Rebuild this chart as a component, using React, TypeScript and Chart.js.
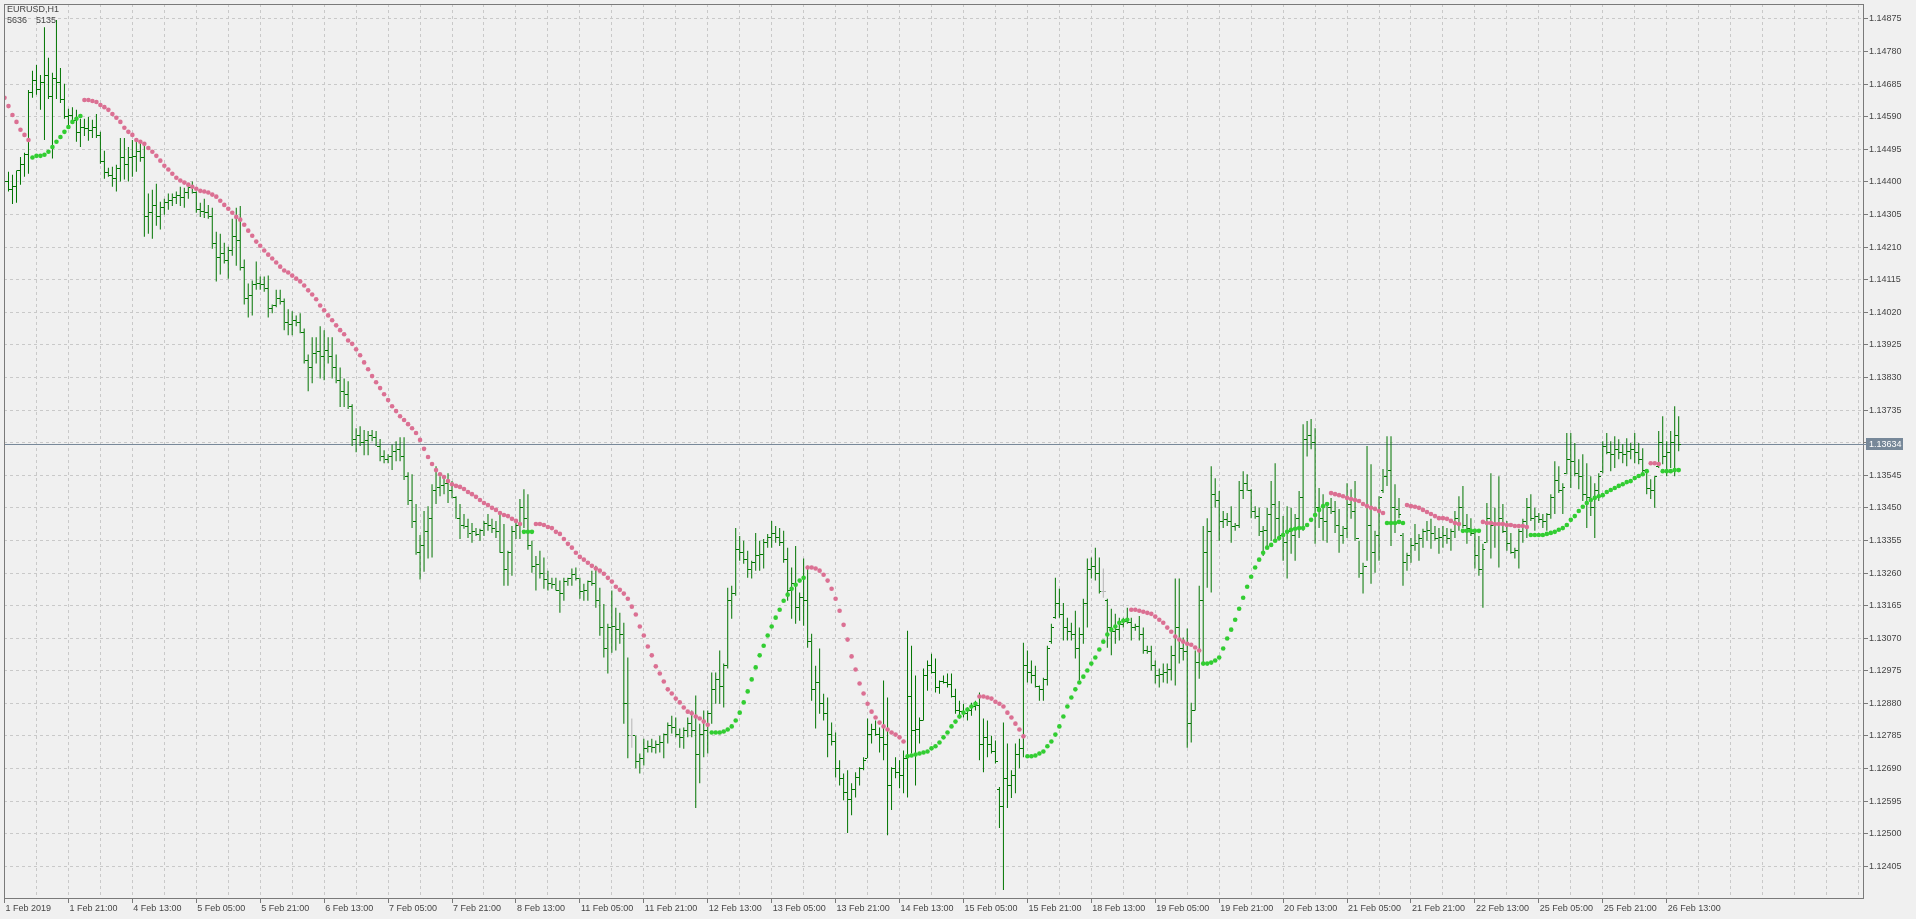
import React, { useEffect, useRef } from 'react';
import { Chart, registerables } from 'chart.js';

Chart.register(...registerables);

// ---- texts ----
const symbolLabel = 'EURUSD,H1';
const infoValues = ['5636', '5135'];

// time labels, one every 16 hourly bars, starting at bar 0
const timeLabels = [
  '1 Feb 2019', '1 Feb 21:00', '4 Feb 13:00', '5 Feb 05:00', '5 Feb 21:00', '6 Feb 13:00',
  '7 Feb 05:00', '7 Feb 21:00', '8 Feb 13:00', '11 Feb 05:00', '11 Feb 21:00', '12 Feb 13:00',
  '13 Feb 05:00', '13 Feb 21:00', '14 Feb 13:00', '15 Feb 05:00', '15 Feb 21:00', '18 Feb 13:00',
  '19 Feb 05:00', '19 Feb 21:00', '20 Feb 13:00', '21 Feb 05:00', '21 Feb 21:00', '22 Feb 13:00',
  '25 Feb 05:00', '25 Feb 21:00', '26 Feb 13:00',
];

const yTickValues = [
  1.12405, 1.12500, 1.12595, 1.12690, 1.12785, 1.12880, 1.12975, 1.13070, 1.13165, 1.13260,
  1.13355, 1.13450, 1.13545, 1.13640, 1.13735, 1.13830, 1.13925, 1.14020, 1.14115, 1.14210,
  1.14305, 1.14400, 1.14495, 1.14590, 1.14685, 1.14780, 1.14875,
];

// ---- OHLC (EURUSD H1) ----
const highs = [
  1.14415,1.14430,1.14421,1.14433,1.14473,1.14485,1.14668,1.14724,1.14741,1.14712,
  1.14851,1.14762,1.14718,1.14872,1.14732,1.14686,1.14613,1.14618,1.14610,1.14584,
  1.14584,1.14589,1.14581,1.14598,1.14546,1.14491,1.14441,1.14444,1.14450,1.14528,
  1.14528,1.14502,1.14522,1.14517,1.14517,1.14505,1.14366,1.14377,1.14395,1.14342,
  1.14351,1.14366,1.14366,1.14372,1.14386,1.14383,1.14392,1.14401,1.14372,1.14339,
  1.14351,1.14333,1.14325,1.14255,1.14249,1.14223,1.14211,1.14293,1.14325,1.14330,
  1.14174,1.14104,1.14113,1.14168,1.14124,1.14124,1.14127,1.14043,1.14086,1.14086,
  1.14060,1.14029,1.14023,1.14011,1.14017,1.13973,1.13897,1.13947,1.13947,1.13979,
  1.13968,1.13947,1.13947,1.13897,1.13859,1.13827,1.13819,1.13752,1.13682,1.13688,
  1.13677,1.13674,1.13677,1.13674,1.13651,1.13618,1.13606,1.13635,1.13644,1.13656,
  1.13656,1.13554,1.13548,1.13461,1.13371,1.13441,1.13455,1.13519,1.13571,1.13542,
  1.13536,1.13551,1.13528,1.13484,1.13461,1.13432,1.13418,1.13406,1.13391,1.13389,
  1.13412,1.13432,1.13418,1.13412,1.13432,1.13403,1.13325,1.13397,1.13412,1.13476,
  1.13504,1.13490,1.13354,1.13310,1.13325,1.13305,1.13267,1.13246,1.13246,1.13238,
  1.13246,1.13246,1.13273,1.13276,1.13246,1.13229,1.13238,1.13267,1.13281,1.13217,
  1.13170,1.13112,1.13209,1.13159,1.13144,1.13115,1.13014,1.12836,1.12786,1.12734,
  1.12777,1.12772,1.12777,1.12772,1.12786,1.12792,1.12824,1.12844,1.12839,1.12807,
  1.12810,1.12839,1.12859,1.12903,1.12821,1.12859,1.12859,1.12970,1.12970,1.13034,
  1.12996,1.13217,1.13223,1.13391,1.13368,1.13354,1.13325,1.13296,1.13377,1.13354,
  1.13359,1.13374,1.13412,1.13397,1.13391,1.13383,1.13334,1.13276,1.13339,1.13203,
  1.13302,1.13281,1.13083,1.12990,1.13040,1.12908,1.12897,1.12824,1.12795,1.12714,
  1.12676,1.12685,1.12647,1.12679,1.12694,1.12723,1.12836,1.12821,1.12830,1.12810,
  1.12947,1.12897,1.12694,1.12723,1.12714,1.12743,1.13092,1.13048,1.12961,1.12839,
  1.12982,1.13005,1.13025,1.13011,1.12947,1.12961,1.12967,1.12967,1.12923,1.12888,
  1.12879,1.12868,1.12882,1.12888,1.12912,1.12836,1.12830,1.12786,1.12772,1.12636,
  1.12824,1.12763,1.12685,1.12763,1.12777,1.13057,1.13034,1.13005,1.12990,1.12932,
  1.12955,1.13048,1.13112,1.13246,1.13214,1.13173,1.13130,1.13115,1.13150,1.13101,
  1.13185,1.13302,1.13305,1.13334,1.13305,1.13273,1.13185,1.13156,1.13141,1.13130,
  1.13130,1.13159,1.13130,1.13112,1.13135,1.13101,1.13048,1.13048,1.13005,1.12982,
  1.12996,1.12996,1.13048,1.13244,1.13244,1.13072,1.13098,1.12882,1.13034,1.13223,
  1.13397,1.13420,1.13571,1.13536,1.13499,1.13441,1.13435,1.13455,1.13406,1.13528,
  1.13557,1.13548,1.13504,1.13455,1.13450,1.13397,1.13450,1.13528,1.13580,1.13470,
  1.13426,1.13455,1.13450,1.13432,1.13499,1.13694,1.13703,1.13709,1.13682,1.13508,
  1.13490,1.13464,1.13479,1.13470,1.13447,1.13397,1.13522,1.13504,1.13528,1.13354,
  1.13290,1.13630,1.13577,1.13383,1.13484,1.13563,1.13659,1.13659,1.13519,1.13479,
  1.13377,1.13319,1.13362,1.13403,1.13374,1.13389,1.13412,1.13418,1.13397,1.13391,
  1.13397,1.13391,1.13389,1.13441,1.13484,1.13514,1.13432,1.13420,1.13389,1.13368,
  1.13345,1.13464,1.13551,1.13450,1.13542,1.13461,1.13412,1.13377,1.13334,1.13389,
  1.13418,1.13479,1.13490,1.13450,1.13435,1.13432,1.13435,1.13490,1.13586,1.13571,
  1.13522,1.13668,1.13668,1.13639,1.13592,1.13606,1.13580,1.13542,1.13522,1.13551,
  1.13644,1.13668,1.13644,1.13659,1.13650,1.13636,1.13653,1.13639,1.13668,1.13639,
  1.13624,1.13563,1.13533,1.13542,1.13674,1.13717,1.13644,1.13674,1.13746,1.13717,
];

const lows = [
  1.14377,1.14372,1.14336,1.14339,1.14392,1.14415,1.14424,1.14645,1.14654,1.14610,
  1.14522,1.14642,1.14468,1.14642,1.14630,1.14584,1.14554,1.14569,1.14517,1.14502,
  1.14534,1.14520,1.14528,1.14528,1.14453,1.14409,1.14415,1.14386,1.14372,1.14401,
  1.14407,1.14401,1.14415,1.14430,1.14459,1.14240,1.14249,1.14234,1.14272,1.14261,
  1.14304,1.14319,1.14330,1.14336,1.14330,1.14325,1.14351,1.14366,1.14310,1.14298,
  1.14295,1.14293,1.14205,1.14110,1.14130,1.14162,1.14118,1.14185,1.14156,1.14142,
  1.14043,1.14005,1.14011,1.14086,1.14086,1.14080,1.14005,1.14017,1.14035,1.14043,
  1.13968,1.13953,1.13953,1.13979,1.13959,1.13871,1.13790,1.13813,1.13871,1.13827,
  1.13822,1.13871,1.13827,1.13813,1.13744,1.13744,1.13738,1.13630,1.13612,1.13630,
  1.13603,1.13603,1.13644,1.13630,1.13586,1.13580,1.13580,1.13560,1.13586,1.13586,
  1.13531,1.13458,1.13391,1.13313,1.13241,1.13264,1.13302,1.13305,1.13461,1.13484,
  1.13490,1.13464,1.13478,1.13418,1.13359,1.13389,1.13362,1.13348,1.13368,1.13354,
  1.13368,1.13383,1.13377,1.13362,1.13319,1.13223,1.13223,1.13252,1.13359,1.13359,
  1.13391,1.13328,1.13261,1.13209,1.13244,1.13214,1.13209,1.13214,1.13209,1.13144,
  1.13179,1.13223,1.13223,1.13238,1.13185,1.13179,1.13179,1.13223,1.13159,1.13077,
  1.13014,1.12967,1.13028,1.13034,1.13054,1.12821,1.12720,1.12751,1.12691,1.12676,
  1.12699,1.12737,1.12737,1.12734,1.12737,1.12720,1.12763,1.12792,1.12781,1.12751,
  1.12748,1.12781,1.12781,1.12575,1.12647,1.12723,1.12734,1.12821,1.12879,1.12879,
  1.12868,1.12982,1.13127,1.13194,1.13296,1.13287,1.13246,1.13244,1.13267,1.13267,
  1.13273,1.13334,1.13334,1.13348,1.13339,1.13290,1.13179,1.13127,1.13112,1.13121,
  1.13106,1.13042,1.12888,1.12807,1.12850,1.12830,1.12723,1.12757,1.12664,1.12641,
  1.12598,1.12502,1.12554,1.12606,1.12641,1.12685,1.12720,1.12763,1.12786,1.12737,
  1.12714,1.12496,1.12569,1.12662,1.12633,1.12618,1.12606,1.12734,1.12641,1.12763,
  1.12830,1.12917,1.12967,1.12912,1.12908,1.12938,1.12926,1.12897,1.12850,1.12836,
  1.12839,1.12830,1.12844,1.12859,1.12714,1.12679,1.12723,1.12734,1.12705,1.12517,
  1.12336,1.12575,1.12604,1.12618,1.12691,1.12723,1.12941,1.12938,1.12926,1.12888,
  1.12888,1.12932,1.13054,1.13127,1.13130,1.13063,1.13063,1.13063,1.13011,1.12947,
  1.13054,1.13101,1.13244,1.13238,1.13200,1.13188,1.13042,1.13020,1.13054,1.13063,
  1.13101,1.13112,1.13063,1.13092,1.13063,1.13025,1.13025,1.12976,1.12938,1.12926,
  1.12941,1.12938,1.12947,1.12932,1.12996,1.13005,1.12751,1.12766,1.12859,1.12952,
  1.12996,1.13217,1.13203,1.13450,1.13354,1.13391,1.13397,1.13348,1.13383,1.13391,
  1.13476,1.13499,1.13420,1.13418,1.13368,1.13310,1.13334,1.13354,1.13359,1.13354,
  1.13296,1.13244,1.13316,1.13296,1.13362,1.13383,1.13600,1.13621,1.13345,1.13391,
  1.13354,1.13348,1.13432,1.13377,1.13319,1.13345,1.13362,1.13418,1.13354,1.13246,
  1.13200,1.13296,1.13229,1.13261,1.13296,1.13493,1.13514,1.13339,1.13377,1.13420,
  1.13223,1.13267,1.13290,1.13325,1.13296,1.13334,1.13354,1.13331,1.13354,1.13316,
  1.13334,1.13345,1.13325,1.13362,1.13383,1.13391,1.13345,1.13368,1.13273,1.13252,
  1.13159,1.13348,1.13302,1.13334,1.13276,1.13377,1.13325,1.13316,1.13302,1.13273,
  1.13348,1.13362,1.13412,1.13383,1.13406,1.13391,1.13383,1.13418,1.13432,1.13493,
  1.13432,1.13548,1.13508,1.13542,1.13504,1.13470,1.13391,1.13426,1.13362,1.13470,
  1.13551,1.13606,1.13557,1.13566,1.13592,1.13580,1.13571,1.13592,1.13580,1.13577,
  1.13551,1.13490,1.13476,1.13450,1.13566,1.13577,1.13542,1.13566,1.13542,1.13615,
];

const opens = [
  1.14395,1.14401,1.14378,1.14386,1.14432,1.14450,1.14480,1.14660,1.14697,1.14668,
  1.14690,1.14710,1.14650,1.14700,1.14690,1.14640,1.14590,1.14595,1.14580,1.14545,
  1.14560,1.14555,1.14550,1.14560,1.14535,1.14460,1.14428,1.14420,1.14410,1.14440,
  1.14470,1.14450,1.14470,1.14475,1.14490,1.14470,1.14300,1.14310,1.14330,1.14300,
  1.14325,1.14340,1.14345,1.14355,1.14360,1.14355,1.14370,1.14385,1.14370,1.14320,
  1.14315,1.14310,1.14300,1.14220,1.14180,1.14190,1.14170,1.14200,1.14240,1.14230,
  1.14150,1.14060,1.14070,1.14100,1.14105,1.14100,1.14090,1.14030,1.14040,1.14060,
  1.14050,1.13990,1.13985,1.13995,1.13990,1.13960,1.13880,1.13860,1.13900,1.13905,
  1.13890,1.13910,1.13890,1.13860,1.13820,1.13790,1.13780,1.13745,1.13650,1.13660,
  1.13640,1.13645,1.13660,1.13655,1.13630,1.13600,1.13590,1.13600,1.13615,1.13620,
  1.13600,1.13540,1.13470,1.13410,1.13320,1.13340,1.13380,1.13420,1.13500,1.13510,
  1.13515,1.13520,1.13500,1.13480,1.13420,1.13400,1.13395,1.13375,1.13380,1.13372,
  1.13385,1.13405,1.13400,1.13390,1.13380,1.13320,1.13270,1.13320,1.13380,1.13400,
  1.13450,1.13420,1.13340,1.13280,1.13285,1.13260,1.13240,1.13230,1.13228,1.13210,
  1.13200,1.13235,1.13245,1.13255,1.13245,1.13205,1.13210,1.13235,1.13230,1.13180,
  1.13100,1.13040,1.13100,1.13105,1.13095,1.13080,1.12880,1.12785,1.12785,1.12710,
  1.12720,1.12750,1.12755,1.12752,1.12760,1.12765,1.12790,1.12815,1.12810,1.12790,
  1.12780,1.12800,1.12820,1.12800,1.12730,1.12790,1.12800,1.12850,1.12920,1.12950,
  1.12930,1.12990,1.13180,1.13200,1.13330,1.13320,1.13300,1.13270,1.13290,1.13310,
  1.13315,1.13350,1.13365,1.13375,1.13365,1.13350,1.13300,1.13210,1.13230,1.13160,
  1.13190,1.13180,1.13060,1.12920,1.12940,1.12880,1.12850,1.12790,1.12770,1.12690,
  1.12660,1.12620,1.12600,1.12630,1.12665,1.12690,1.12720,1.12790,1.12805,1.12790,
  1.12780,1.12760,1.12640,1.12690,1.12680,1.12670,1.12720,1.12900,1.12800,1.12805,
  1.12830,1.12960,1.12990,1.12970,1.12925,1.12945,1.12940,1.12935,1.12900,1.12860,
  1.12855,1.12850,1.12860,1.12870,1.12875,1.12760,1.12780,1.12760,1.12740,1.12630,
  1.12580,1.12660,1.12640,1.12670,1.12730,1.12750,1.12990,1.12970,1.12960,1.12930,
  1.12920,1.12950,1.13060,1.13130,1.13170,1.13140,1.13100,1.13090,1.13080,1.13040,
  1.13080,1.13170,1.13270,1.13280,1.13260,1.13205,1.13180,1.13100,1.13090,1.13095,
  1.13110,1.13120,1.13115,1.13100,1.13105,1.13080,1.13035,1.13030,1.12990,1.12960,
  1.12965,1.12970,1.12980,1.13020,1.13100,1.13040,1.13030,1.12820,1.12860,1.13000,
  1.13180,1.13320,1.13380,1.13490,1.13470,1.13410,1.13415,1.13410,1.13395,1.13400,
  1.13500,1.13520,1.13500,1.13440,1.13425,1.13380,1.13385,1.13430,1.13460,1.13420,
  1.13370,1.13350,1.13380,1.13370,1.13420,1.13480,1.13650,1.13660,1.13640,1.13450,
  1.13420,1.13410,1.13450,1.13440,1.13400,1.13370,1.13390,1.13460,1.13440,1.13360,
  1.13260,1.13280,1.13400,1.13320,1.13370,1.13500,1.13540,1.13560,1.13450,1.13445,
  1.13370,1.13290,1.13310,1.13340,1.13345,1.13360,1.13380,1.13385,1.13375,1.13360,
  1.13365,1.13370,1.13360,1.13380,1.13420,1.13450,1.13400,1.13390,1.13375,1.13310,
  1.13270,1.13350,1.13420,1.13400,1.13405,1.13420,1.13380,1.13345,1.13320,1.13325,
  1.13380,1.13410,1.13450,1.13420,1.13425,1.13415,1.13410,1.13430,1.13480,1.13530,
  1.13500,1.13550,1.13590,1.13585,1.13550,1.13540,1.13490,1.13480,1.13450,1.13500,
  1.13555,1.13630,1.13610,1.13605,1.13620,1.13610,1.13605,1.13615,1.13620,1.13610,
  1.13590,1.13560,1.13505,1.13500,1.13570,1.13640,1.13600,1.13610,1.13640,1.13660,
];

const closes = [
  1.14401,1.14378,1.14386,1.14432,1.14450,1.14480,1.14660,1.14697,1.14668,1.14690,
  1.14710,1.14650,1.14700,1.14690,1.14640,1.14590,1.14595,1.14580,1.14545,1.14560,
  1.14555,1.14550,1.14560,1.14535,1.14460,1.14428,1.14420,1.14410,1.14440,1.14470,
  1.14450,1.14470,1.14475,1.14490,1.14470,1.14300,1.14310,1.14330,1.14300,1.14325,
  1.14340,1.14345,1.14355,1.14360,1.14355,1.14370,1.14385,1.14370,1.14320,1.14315,
  1.14310,1.14300,1.14220,1.14180,1.14190,1.14170,1.14200,1.14240,1.14230,1.14150,
  1.14060,1.14070,1.14100,1.14105,1.14100,1.14090,1.14030,1.14040,1.14060,1.14050,
  1.13990,1.13985,1.13995,1.13990,1.13960,1.13880,1.13860,1.13900,1.13905,1.13890,
  1.13910,1.13890,1.13860,1.13820,1.13790,1.13780,1.13745,1.13650,1.13660,1.13640,
  1.13645,1.13660,1.13655,1.13630,1.13600,1.13590,1.13600,1.13615,1.13620,1.13600,
  1.13540,1.13470,1.13410,1.13320,1.13340,1.13380,1.13420,1.13500,1.13510,1.13515,
  1.13520,1.13500,1.13480,1.13420,1.13400,1.13395,1.13375,1.13380,1.13372,1.13385,
  1.13405,1.13400,1.13390,1.13380,1.13320,1.13270,1.13320,1.13380,1.13400,1.13450,
  1.13420,1.13340,1.13280,1.13285,1.13260,1.13240,1.13230,1.13228,1.13210,1.13200,
  1.13235,1.13245,1.13255,1.13245,1.13205,1.13210,1.13235,1.13230,1.13180,1.13100,
  1.13040,1.13100,1.13105,1.13095,1.13080,1.12880,1.12785,1.12785,1.12710,1.12720,
  1.12750,1.12755,1.12752,1.12760,1.12765,1.12790,1.12815,1.12810,1.12790,1.12780,
  1.12800,1.12820,1.12800,1.12730,1.12790,1.12800,1.12850,1.12920,1.12950,1.12930,
  1.12990,1.13180,1.13200,1.13330,1.13320,1.13300,1.13270,1.13290,1.13310,1.13315,
  1.13350,1.13365,1.13375,1.13365,1.13350,1.13300,1.13210,1.13230,1.13160,1.13190,
  1.13180,1.13060,1.12920,1.12940,1.12880,1.12850,1.12790,1.12770,1.12690,1.12660,
  1.12620,1.12600,1.12630,1.12665,1.12690,1.12715,1.12790,1.12805,1.12790,1.12780,
  1.12760,1.12640,1.12690,1.12680,1.12670,1.12720,1.12900,1.12800,1.12805,1.12830,
  1.12960,1.12990,1.12970,1.12925,1.12945,1.12940,1.12935,1.12900,1.12860,1.12855,
  1.12850,1.12860,1.12870,1.12875,1.12760,1.12780,1.12760,1.12740,1.12710,1.12580,
  1.12660,1.12640,1.12670,1.12730,1.12750,1.12990,1.12970,1.12960,1.12930,1.12920,
  1.12950,1.13040,1.13100,1.13170,1.13140,1.13100,1.13090,1.13080,1.13040,1.13080,
  1.13170,1.13270,1.13280,1.13260,1.13205,1.13205,1.13100,1.13090,1.13095,1.13110,
  1.13120,1.13115,1.13100,1.13105,1.13080,1.13035,1.13030,1.12990,1.12960,1.12965,
  1.12970,1.12980,1.13020,1.13100,1.13040,1.13030,1.12820,1.12860,1.13000,1.13180,
  1.13320,1.13380,1.13490,1.13470,1.13410,1.13415,1.13410,1.13395,1.13400,1.13500,
  1.13520,1.13500,1.13440,1.13425,1.13380,1.13385,1.13430,1.13460,1.13420,1.13370,
  1.13350,1.13380,1.13370,1.13420,1.13480,1.13650,1.13660,1.13640,1.13450,1.13420,
  1.13410,1.13450,1.13440,1.13400,1.13370,1.13390,1.13460,1.13440,1.13360,1.13260,
  1.13280,1.13400,1.13320,1.13370,1.13480,1.13540,1.13560,1.13450,1.13445,1.13430,
  1.13290,1.13310,1.13340,1.13345,1.13360,1.13380,1.13385,1.13375,1.13360,1.13365,
  1.13370,1.13360,1.13380,1.13420,1.13450,1.13400,1.13390,1.13375,1.13310,1.13270,
  1.13330,1.13420,1.13400,1.13405,1.13420,1.13380,1.13345,1.13320,1.13325,1.13380,
  1.13410,1.13450,1.13420,1.13425,1.13415,1.13410,1.13430,1.13480,1.13530,1.13500,
  1.13510,1.13590,1.13585,1.13550,1.13540,1.13490,1.13480,1.13450,1.13500,1.13540,
  1.13630,1.13610,1.13605,1.13620,1.13610,1.13605,1.13615,1.13620,1.13610,1.13590,
  1.13560,1.13505,1.13500,1.13540,1.13640,1.13600,1.13610,1.13640,1.13660,1.13634,
];

// ---- indicator (dotted trend line) ----
const indicator = [
  1.14645,1.14621,1.14595,1.14575,1.14552,1.14537,1.14522,1.14471,1.14476,1.14476,
  1.14479,1.14488,1.14502,1.14517,1.14531,1.14546,1.14560,1.14575,1.14584,1.14592,
  1.14639,1.14639,1.14636,1.14633,1.14624,1.14618,1.14610,1.14598,1.14587,1.14575,
  1.14558,1.14546,1.14537,1.14522,1.14517,1.14511,1.14499,1.14488,1.14476,1.14462,
  1.14447,1.14436,1.14424,1.14412,1.14404,1.14398,1.14392,1.14386,1.14380,1.14374,
  1.14372,1.14369,1.14363,1.14357,1.14345,1.14333,1.14322,1.14310,1.14298,1.14290,
  1.14275,1.14258,1.14243,1.14226,1.14214,1.14200,1.14188,1.14177,1.14165,1.14153,
  1.14142,1.14136,1.14127,1.14118,1.14110,1.14098,1.14084,1.14072,1.14058,1.14040,
  1.14026,1.14011,1.13997,1.13982,1.13968,1.13956,1.13938,1.13928,1.13912,1.13895,
  1.13874,1.13854,1.13834,1.13816,1.13799,1.13781,1.13764,1.13746,1.13732,1.13717,
  1.13706,1.13694,1.13682,1.13668,1.13648,1.13622,1.13598,1.13578,1.13560,1.13548,
  1.13540,1.13528,1.13519,1.13514,1.13511,1.13505,1.13496,1.13490,1.13482,1.13473,
  1.13464,1.13458,1.13450,1.13444,1.13435,1.13429,1.13426,1.13418,1.13412,1.13403,
  1.13380,1.13380,1.13380,1.13403,1.13403,1.13400,1.13394,1.13391,1.13380,1.13374,
  1.13359,1.13345,1.13334,1.13319,1.13307,1.13299,1.13290,1.13281,1.13273,1.13267,
  1.13258,1.13246,1.13235,1.13220,1.13211,1.13200,1.13185,1.13162,1.13139,1.13104,
  1.13078,1.13046,1.13020,1.12988,1.12967,1.12944,1.12921,1.12909,1.12894,1.12883,
  1.12868,1.12856,1.12851,1.12842,1.12836,1.12827,1.12818,1.12795,1.12795,1.12795,
  1.12798,1.12804,1.12813,1.12830,1.12853,1.12883,1.12915,1.12950,1.12985,1.13020,
  1.13048,1.13078,1.13104,1.13130,1.13153,1.13179,1.13197,1.13214,1.13226,1.13238,
  1.13246,1.13276,1.13276,1.13273,1.13267,1.13255,1.13238,1.13214,1.13185,1.13150,
  1.13109,1.13066,1.13017,1.12979,1.12938,1.12909,1.12879,1.12856,1.12839,1.12824,
  1.12813,1.12804,1.12795,1.12789,1.12781,1.12769,1.12726,1.12728,1.12731,1.12734,
  1.12737,1.12740,1.12749,1.12755,1.12766,1.12781,1.12795,1.12813,1.12827,1.12842,
  1.12853,1.12862,1.12871,1.12879,1.12900,1.12900,1.12897,1.12894,1.12885,1.12879,
  1.12871,1.12853,1.12839,1.12821,1.12804,1.12784,1.12726,1.12726,1.12728,1.12734,
  1.12740,1.12755,1.12769,1.12789,1.12813,1.12842,1.12871,1.12897,1.12921,1.12941,
  1.12958,1.12976,1.12996,1.13014,1.13037,1.13060,1.13081,1.13095,1.13104,1.13115,
  1.13121,1.13124,1.13153,1.13153,1.13150,1.13147,1.13144,1.13141,1.13133,1.13124,
  1.13115,1.13101,1.13089,1.13075,1.13066,1.13060,1.13054,1.13051,1.13043,1.13034,
  1.12996,1.12996,1.12999,1.13005,1.13014,1.13040,1.13069,1.13095,1.13124,1.13156,
  1.13188,1.13220,1.13249,1.13276,1.13299,1.13319,1.13334,1.13342,1.13354,1.13362,
  1.13371,1.13380,1.13386,1.13389,1.13391,1.13391,1.13400,1.13415,1.13429,1.13444,
  1.13455,1.13461,1.13493,1.13490,1.13487,1.13484,1.13479,1.13476,1.13473,1.13470,
  1.13461,1.13455,1.13450,1.13447,1.13441,1.13435,1.13406,1.13406,1.13406,1.13409,
  1.13406,1.13458,1.13455,1.13453,1.13450,1.13444,1.13438,1.13432,1.13426,1.13420,
  1.13420,1.13418,1.13412,1.13406,1.13403,1.13383,1.13383,1.13383,1.13383,1.13383,
  1.13409,1.13406,1.13406,1.13403,1.13403,1.13403,1.13400,1.13400,1.13397,1.13397,
  1.13397,1.13394,1.13371,1.13371,1.13371,1.13371,1.13374,1.13377,1.13380,1.13386,
  1.13391,1.13400,1.13415,1.13426,1.13441,1.13453,1.13464,1.13473,1.13479,1.13484,
  1.13487,1.13496,1.13502,1.13508,1.13514,1.13519,1.13525,1.13528,1.13537,1.13543,
  1.13548,1.13557,1.13580,1.13580,1.13578,1.13557,1.13557,1.13557,1.13560,1.13560,
];

// runs of the indicator colour: -1 = falling (pink), 1 = rising (green), [direction, bar count]
const trendRuns = [
  [-1, 7], [1, 13], [-1, 110], [1, 3], [-1, 44], [1, 24], [-1, 25], [1, 18], [-1, 12], [1, 26],
  [-1, 18], [1, 32], [-1, 14], [1, 5], [-1, 14], [1, 5], [-1, 12], [1, 30], [-1, 3], [1, 5],
];

// ---- layout / style ----
const W = 1916;
const H = 919;
const X_MIN = -0.125;
const X_MAX = 465.125;
const Y_MIN = 1.123128;
const Y_MAX = 1.149186;
const BG = '#f0f0f0';
const GRID = '#c9c9c9';
const FRAME = '#7a7a7a';
const TEXT = '#454545';
const BAR = '#007400';
const DOJI = '#b4b4b4';
const PINK = '#db7093';
const LIME = '#32cd32';
const PRICE_LINE = '#778899';
const FONT = '"Liberation Sans", Arial, sans-serif';
const BAR_DS = 2;

export default function App() {
  const ref = useRef<HTMLCanvasElement>(null);

  useEffect(() => {
    const canvas = ref.current;
    if (!canvas) return;
    const n = closes.length;
    const lastPrice = closes[n - 1];
    const barData = highs.map((h, i) => ({ x: i, y: [lows[i], h] }));
    const barColors = opens.map((o, i) => (Math.abs(o - closes[i]) < 1e-7 ? DOJI : BAR));

    const trend: number[] = [];
    trendRuns.forEach(([d, len]) => {
      for (let k = 0; k < len; k++) trend.push(d);
    });
    const downPts: { x: number; y: number }[] = [];
    const upPts: { x: number; y: number }[] = [];
    indicator.forEach((v, i) => (trend[i] < 0 ? downPts : upPts).push({ x: i, y: v }));

    const ohlcTicks = {
      id: 'ohlcTicks',
      afterDatasetDraw(chart: any, args: any) {
        if (args.index !== BAR_DS) return;
        const { ctx, chartArea } = chart;
        const xs = chart.scales.x;
        const ys = chart.scales.y;
        ctx.save();
        ctx.beginPath();
        ctx.rect(chartArea.left, chartArea.top, chartArea.right - chartArea.left, chartArea.bottom - chartArea.top);
        ctx.clip();
        for (let i = 0; i < n; i++) {
          const px = Math.floor(xs.getPixelForValue(i));
          ctx.fillStyle = barColors[i];
          const yo = Math.floor(ys.getPixelForValue(opens[i]));
          const yc = Math.floor(ys.getPixelForValue(closes[i]));
          ctx.fillRect(px - 2, yo, 2, 1);
          ctx.fillRect(px + 1, yc, 2, 1);
        }
        ctx.restore();
      },
    };

    const decor = {
      id: 'decor',
      beforeDatasetsDraw(chart: any) {
        const { ctx, chartArea } = chart;
        const y = Math.floor(chart.scales.y.getPixelForValue(lastPrice)) + 0.5;
        ctx.save();
        ctx.strokeStyle = PRICE_LINE;
        ctx.lineWidth = 1;
        ctx.beginPath();
        ctx.moveTo(chartArea.left, y);
        ctx.lineTo(chartArea.right, y);
        ctx.stroke();
        ctx.restore();
      },
      afterDraw(chart: any) {
        const { ctx, chartArea } = chart;
        ctx.save();
        // frame
        ctx.strokeStyle = FRAME;
        ctx.lineWidth = 1;
        ctx.strokeRect(
          chartArea.left + 0.5,
          chartArea.top + 0.5,
          chartArea.right - chartArea.left,
          chartArea.bottom - chartArea.top
        );
        // current price label
        const y = Math.floor(chart.scales.y.getPixelForValue(lastPrice));
        ctx.fillStyle = PRICE_LINE;
        ctx.fillRect(chartArea.right + 3, y - 6, 37, 12);
        ctx.fillRect(chartArea.right, y, 4, 1);
        ctx.fillStyle = '#ffffff';
        ctx.font = `9px ${FONT}`;
        ctx.textBaseline = 'middle';
        ctx.textAlign = 'left';
        ctx.fillText(lastPrice.toFixed(5), chartArea.right + 6, y + 0.5);
        // header
        ctx.fillStyle = TEXT;
        ctx.fillText(symbolLabel, 7, 10);
        ctx.fillText(infoValues[0], 7, 21);
        ctx.fillText(infoValues[1], 36, 21);
        ctx.restore();
      },
    };

    const tickFont = { family: FONT, size: 9 };

    const chart = new Chart(canvas, {
      type: 'scatter',
      data: {
        datasets: [
          {
            type: 'scatter',
            data: downPts,
            pointRadius: 2.3,
            pointBorderWidth: 0,
            pointBackgroundColor: PINK,
            pointBorderColor: PINK,
            backgroundColor: PINK,
            order: 0,
          },
          {
            type: 'scatter',
            data: upPts,
            pointRadius: 2.3,
            pointBorderWidth: 0,
            pointBackgroundColor: LIME,
            pointBorderColor: LIME,
            backgroundColor: LIME,
            order: 0,
          },
          {
            type: 'bar',
            data: barData as any,
            backgroundColor: barColors,
            borderWidth: 0,
            barThickness: 1,
            inflateAmount: 0,
            grouped: false,
            order: 1,
          } as any,
        ],
      },
      options: {
        responsive: false,
        animation: false,
        devicePixelRatio: 1,
        events: [],
        layout: { padding: { left: 2, top: 2, right: 0, bottom: 0 } },
        plugins: { legend: { display: false }, tooltip: { enabled: false } },
        scales: {
          x: {
            type: 'linear',
            position: 'bottom',
            min: X_MIN,
            max: X_MAX,
            offset: false,
            afterBuildTicks: (s: any) => {
              const t: { value: number }[] = [];
              for (let v = 0; v <= X_MAX; v += 8) t.push({ value: v });
              s.ticks = t;
            },
            afterFit: (s: any) => {
              s.height = 21;
              s.paddingLeft = 0;
              s.paddingRight = 0;
            },
            grid: {
              color: GRID,
              lineWidth: 1,
              offset: false,
              drawTicks: true,
              tickLength: 5,
              tickWidth: 1,
              tickColor: (c: any) => {
                const v = c.tick ? c.tick.value : -1;
                return v % 16 === 0 && v / 16 < timeLabels.length ? FRAME : 'rgba(0,0,0,0)';
              },
            },
            border: { display: false, dash: [3, 3] },
            ticks: {
              autoSkip: false,
              maxRotation: 0,
              minRotation: 0,
              align: 'start',
              padding: 0,
              labelOffset: 1,
              color: TEXT,
              font: tickFont,
              callback: (v: any) => {
                const k = Number(v) / 16;
                return Number.isInteger(k) && k < timeLabels.length ? timeLabels[k] : '';
              },
            },
          },
          y: {
            type: 'linear',
            position: 'right',
            min: Y_MIN,
            max: Y_MAX,
            afterBuildTicks: (s: any) => {
              s.ticks = yTickValues.map((v) => ({ value: v }));
            },
            afterFit: (s: any) => {
              s.width = 53;
              s.paddingTop = 0;
              s.paddingBottom = 0;
            },
            grid: { color: GRID, lineWidth: 1, drawTicks: true, tickLength: 5, tickWidth: 1, tickColor: FRAME },
            border: { display: false, dash: [3, 3] },
            ticks: {
              padding: 1,
              crossAlign: 'near',
              color: TEXT,
              font: tickFont,
              callback: (v: any) => (Math.abs(Number(v) - lastPrice) < 0.0002 ? '' : Number(v).toFixed(5)),
            },
          },
        },
      } as any,
      plugins: [ohlcTicks, decor],
    });

    return () => chart.destroy();
  }, []);

  return (
    <div style={{ position: 'fixed', left: 0, top: 0, width: W, height: H, background: BG }}>
      <canvas ref={ref} width={W} height={H} style={{ display: 'block', width: W, height: H }} />
    </div>
  );
}
